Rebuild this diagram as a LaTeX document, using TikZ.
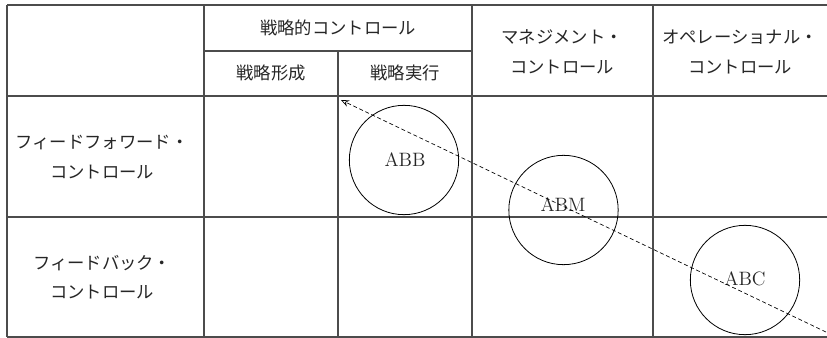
\documentclass[tikz,border=0pt]{standalone}
\usepackage{fontspec}
\newfontfamily\jp{Noto Sans CJK JP}
\usetikzlibrary{arrows.meta}
\begin{document}
\begin{tikzpicture}[x=0.75pt,y=-0.75pt,
  grid/.style={draw=black!70,line width=0.8pt},
  jtext/.style={font=\jp\fontsize{13}{15}\selectfont,inner sep=0pt,text=black!85},
  circ/.style={circle,draw=black,line width=0.6pt,minimum size=82pt,inner sep=0pt},
  lab/.style={font=\fontsize{14.5}{16}\selectfont,inner sep=0pt,text=black!85},
  flow/.style={densely dashed,line width=0.5pt,-{Stealth[open,length=6pt,width=5pt]}}]
\useasboundingbox (0,0) rectangle (827,338);
% grid
\draw[grid] (7,5) -- (827,5);
\draw[grid] (204,51) -- (472,51);
\draw[grid] (7,96) -- (827,96);
\draw[grid] (7,217) -- (827,217);
\draw[grid] (7,337) -- (827,337);
\draw[grid] (7,5) -- (7,337);
\draw[grid] (204,5) -- (204,337);
\draw[grid] (338,51) -- (338,337);
\draw[grid] (472,5) -- (472,337);
\draw[grid] (653,5) -- (653,337);
% header texts
\node[jtext] (h1) at (338,28) {戦略的コントロール};
\node[jtext] (h2) at (271,73) {戦略形成};
\node[jtext] (h3) at (405,73) {戦略実行};
\node[jtext] (h4a) at (562,37) {マネジメント・};
\node[jtext] (h4b) at (562,67) {コントロール};
\node[jtext] (h5a) at (740,37) {オペレーショナル・};
\node[jtext] (h5b) at (740,67) {コントロール};
% row texts
\node[jtext] (r1a) at (102,143) {フィードフォワード・};
\node[jtext] (r1b) at (102,172) {コントロール};
\node[jtext] (r2a) at (102,263) {フィードバック・};
\node[jtext] (r2b) at (102,292) {コントロール};
% circles
\node[circ] (cB) at (404,160) {};
\node[circ] (cM) at (563.5,210) {};
\node[circ] (cC) at (745,280) {};
\node[lab] (tB) at (405,160) {ABB};
\node[lab] (tM) at (563,205) {ABM};
\node[lab] (tC) at (745,279) {ABC};
% arrow
\coordinate (aS) at (826,332);
\coordinate (aE) at (341,100);
\draw[flow] (aS) -- (aE);
\end{tikzpicture}
\end{document}
